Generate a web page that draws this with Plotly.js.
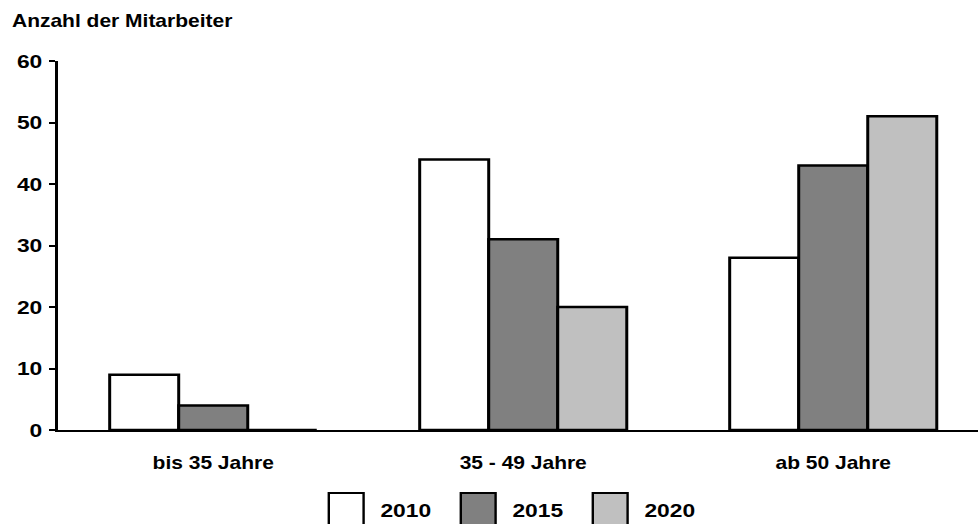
<!DOCTYPE html>
<html>
<head>
<meta charset="utf-8">
<script src="https://cdn.plot.ly/plotly-3.0.1.min.js"></script>
<style>
  html, body { margin: 0; padding: 0; overflow: hidden; background: #fff; }
  /* the original is stretched horizontally, so draw narrower and stretch */
  #chart { width: 815px; height: 524px; transform: scaleX(1.2); transform-origin: 0 0; }
</style>
</head>
<body>
<div id="chart"></div>
<script>
const kategorien = ["bis 35 Jahre", "35 - 49 Jahre", "ab 50 Jahre"];
const jahre = ["2010", "2015", "2020"];
const werte2010 = [9, 44, 28];
const werte2015 = [4, 31, 43];
const werte2020 = [0, 20, 51];
const farben = ["#ffffff", "#808080", "#c0c0c0"];
const yTicks = [0, 10, 20, 30, 40, 50, 60];

const schrift = { family: "Liberation Sans, Arial, sans-serif", size: 17.5, color: "#000", weight: 700 };

const reihen = [werte2010, werte2015, werte2020];
const spuren = reihen.map((w, i) => ({
  x: kategorien,
  y: w,
  type: "bar",
  name: jahre[i],
  marker: { color: farben[i], line: { color: "#000", width: 2.5 } },
  showlegend: false,
  hoverinfo: "skip"
}));

// eigene Legende mit grossen Kaestchen (Papierkoordinaten)
const plotL = 48, plotR = 815, plotT = 61, plotB = 430;
const pxX = px => (px - plotL) / (plotR - plotL);
const pxY = px => (plotB - px) / (plotB - plotT);
const legStart = 274, legStep = 110, boxW = 29;
const shapes = [];
const annotations = [];
jahre.forEach((j, i) => {
  const x0 = legStart + i * legStep;
  shapes.push({
    type: "rect", xref: "paper", yref: "paper",
    x0: pxX(x0), x1: pxX(x0 + boxW), y0: pxY(493), y1: pxY(530),
    fillcolor: farben[i], line: { color: "#000", width: 2 }
  });
  annotations.push({
    text: j, xref: "paper", yref: "paper",
    x: pxX(x0 + boxW + 11.5), y: pxY(510),
    xanchor: "left", yanchor: "middle", showarrow: false,
    font: Object.assign({}, schrift, { size: 19 })
  });
});

const layout = {
  width: 815,
  height: 524,
  margin: { l: plotL, r: 0, t: plotT, b: 524 - plotB },
  paper_bgcolor: "#fff",
  plot_bgcolor: "#fff",
  font: schrift,
  title: {
    text: "Anzahl der Mitarbeiter",
    font: schrift,
    x: 10 / 815, xanchor: "left",
    y: 1 - 21 / 524, yanchor: "middle"
  },
  barmode: "group",
  bargap: 0.332,
  bargroupgap: 0,
  xaxis: {
    type: "category",
    range: [-0.502, 2.467],
    showline: true, linecolor: "#000", linewidth: 2,
    ticks: "", showgrid: false, zeroline: false,
    tickfont: schrift,
    ticklabelstandoff: 16,
    fixedrange: true
  },
  yaxis: {
    range: [0, 60],
    tickvals: yTicks,
    showline: true, linecolor: "#000", linewidth: 2,
    ticks: "outside", ticklen: 5, tickwidth: 2, tickcolor: "#000",
    showgrid: false, zeroline: false,
    tickfont: Object.assign({}, schrift, { size: 19 }),
    ticklabelstandoff: 2,
    fixedrange: true
  },
  shapes: shapes,
  annotations: annotations
};

Plotly.newPlot("chart", spuren, layout, { displayModeBar: false, staticPlot: true });
</script>
</body>
</html>
